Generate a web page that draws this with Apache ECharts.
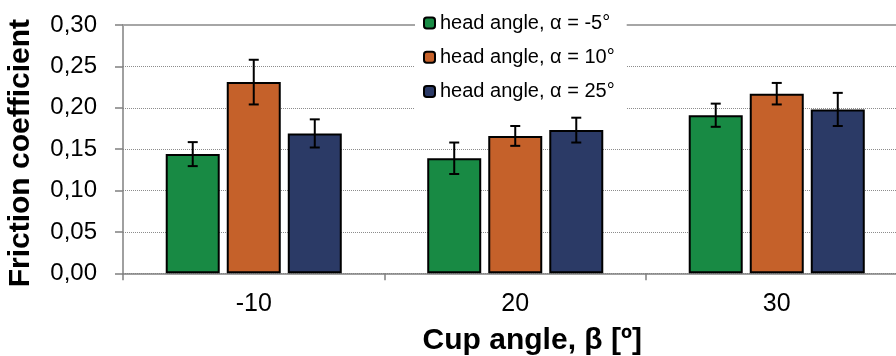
<!DOCTYPE html>
<html>
<head>
<meta charset="utf-8">
<script src="https://cdn.jsdelivr.net/npm/echarts@6/dist/echarts.min.js"></script>
<style>
  html, body { margin: 0; padding: 0; background: #fff; }
  #chart { width: 896px; height: 356px; }
</style>
</head>
<body>
<div id="chart"></div>
<script>
// Cup angle groups on the x axis
const cupAngles = ['-10', '20', '30'];

// Mean friction coefficient per head angle
const headMinus5 = [0.144, 0.139, 0.191];
const head10 = [0.231, 0.166, 0.217];
const head25 = [0.169, 0.173, 0.198];

// Standard deviations (error bar half-lengths)
const errMinus5 = [0.0145, 0.019, 0.014];
const err10 = [0.027, 0.012, 0.013];
const err25 = [0.017, 0.015, 0.020];

const seriesNames = ['head angle, α = -5°', 'head angle, α = 10°', 'head angle, α = 25°'];
const yTickLabels = ['0,00', '0,05', '0,10', '0,15', '0,20', '0,25', '0,30'];

const colors = ['#188a44', '#c5612a', '#2b3a66'];
const BAR_W = 54;
const BAR_GAP = 0.13;
const FONT = '"Liberation Sans", Arial, sans-serif';

const chart = echarts.init(document.getElementById('chart'), null, { renderer: 'canvas' });

function barSeries(name, data, color) {
  return {
    name: name,
    type: 'bar',
    data: data,
    barWidth: BAR_W,
    barGap: (BAR_GAP * 100) + '%',
    itemStyle: { color: color, borderColor: '#000', borderWidth: 2 },
    emphasis: { disabled: true },
    z: 2
  };
}

function errorSeries(idx, means, errs) {
  const items = means.map((m, i) => [i, m - errs[i], m + errs[i]]);
  return {
    type: 'custom',
    name: 'err' + idx,
    data: items,
    z: 5,
    silent: true,
    renderItem: function (params, api) {
      const offset = (idx - 1) * BAR_W * (1 + BAR_GAP);
      const lo = api.coord([api.value(0), api.value(1)]);
      const hi = api.coord([api.value(0), api.value(2)]);
      const x = lo[0] + offset;
      const cap = 5;
      const style = { stroke: '#000', lineWidth: 2 };
      return {
        type: 'group',
        children: [
          { type: 'line', shape: { x1: x, y1: lo[1], x2: x, y2: hi[1] }, style: style },
          { type: 'line', shape: { x1: x - cap, y1: lo[1], x2: x + cap, y2: lo[1] }, style: style },
          { type: 'line', shape: { x1: x - cap, y1: hi[1], x2: x + cap, y2: hi[1] }, style: style }
        ]
      };
    }
  };
}

const option = {
  animation: false,
  backgroundColor: '#fff',
  textStyle: { fontFamily: FONT },
  // plot area runs slightly past the right edge of the canvas
  grid: { left: 123, top: 25, width: 784.5, height: 248.3, containLabel: false, outerBoundsMode: 'none' },
  legend: {
    orient: 'vertical',
    left: 415,
    top: 0,
    data: seriesNames,
    itemWidth: 11,
    itemHeight: 11,
    itemGap: 14.3,
    padding: [13, 12, 12, 8],
    backgroundColor: '#fff',
    selectedMode: false,
    textStyle: { fontFamily: FONT, fontSize: 20, color: '#000', lineHeight: 20 }
  },
  xAxis: [
    {
      type: 'category',
      data: cupAngles,
      axisLine: { lineStyle: { color: '#808080', width: 1.5 } },
      axisTick: { show: true, length: 7, lineStyle: { color: '#808080', width: 1.5 } },
      axisLabel: { fontFamily: FONT, fontSize: 25, color: '#000', margin: 18 },
      name: 'Cup angle, β [º]',
      nameLocation: 'middle',
      nameGap: 52,
      nameTextStyle: { fontFamily: FONT, fontSize: 30, fontWeight: 'bold', color: '#000', padding: [0, 0, 0, 34] }
    },
    {
      type: 'category',
      data: cupAngles,
      position: 'top',
      axisLine: { show: true, lineStyle: { color: '#a6a6a6', width: 2 } },
      axisTick: { show: false },
      axisLabel: { show: false }
    }
  ],
  yAxis: {
    type: 'value',
    min: 0,
    max: 0.3,
    interval: 0.05,
    axisLine: { show: true, lineStyle: { color: '#808080', width: 1.5 } },
    axisTick: { show: true, length: 8, lineStyle: { color: '#808080', width: 1.5 } },
    axisLabel: {
      fontFamily: FONT, fontSize: 24, color: '#000', margin: 26,
      formatter: function (v) { return yTickLabels[Math.round(v / 0.05)]; }
    },
    splitLine: { show: true, lineStyle: { color: '#8c8c8c', width: 1, type: [1, 1] } },
    name: 'Friction coefficient',
    nameLocation: 'middle',
    nameGap: 87,
    nameTextStyle: { fontFamily: FONT, fontSize: 30, fontWeight: 'bold', color: '#000', padding: [0, 8, 0, 0] }
  },
  series: [
    barSeries(seriesNames[0], headMinus5, colors[0]),
    barSeries(seriesNames[1], head10, colors[1]),
    barSeries(seriesNames[2], head25, colors[2]),
    errorSeries(0, headMinus5, errMinus5),
    errorSeries(1, head10, err10),
    errorSeries(2, head25, err25)
  ]
};

chart.setOption(option);
</script>
</body>
</html>
